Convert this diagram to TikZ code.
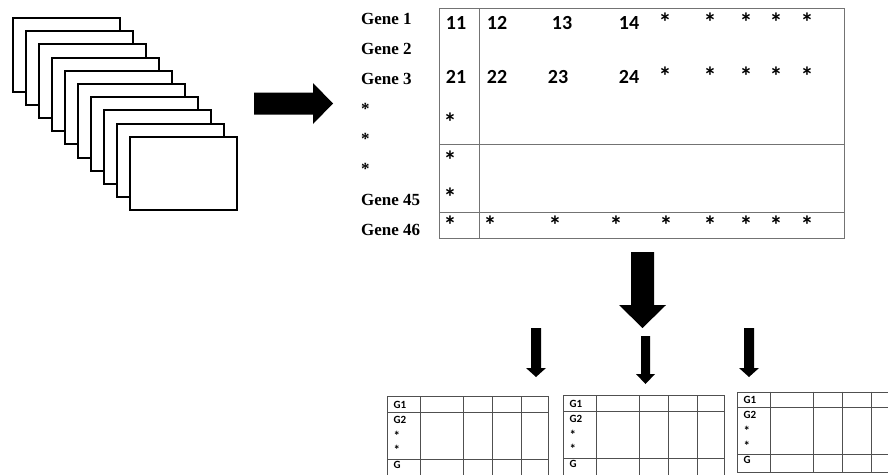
\documentclass[tikz,border=0pt]{standalone}
\usepackage{fontspec}
\setmainfont{Liberation Serif}
\newfontfamily\calfont{Carlito}
\definecolor{mgray}{RGB}{115,115,115}
\definecolor{tgray}{RGB}{80,80,80}
\begin{document}
\begin{tikzpicture}[x=1pt,y=-1pt,
  card/.style={draw=black,line width=2pt,fill=white,minimum width=107pt,minimum height=73.5pt,anchor=north west,inner sep=0pt,outer sep=0pt},
  gene/.style={anchor=base west,inner sep=0pt,font=\fontsize{17}{20}\selectfont\bfseries},
  num/.style={anchor=base,inner sep=0pt,font=\calfont\fontsize{20}{24}\selectfont\bfseries},
  star/.style={anchor=base,inner sep=0pt,font=\calfont\fontsize{26}{30}\selectfont\bfseries},
  smalltxt/.style={anchor=base west,inner sep=0pt,font=\calfont\fontsize{11}{13}\selectfont\bfseries},
  smallstar/.style={anchor=base west,inner sep=0pt,font=\calfont\fontsize{13}{15}\selectfont\bfseries},
  mline/.style={draw=mgray,line width=0.9pt},
  tline/.style={draw=tgray,line width=0.9pt},
  blockarrow/.style={fill=black}]
\clip (0,0) rectangle (888,474);
\fill[white] (0,0) rectangle (888,474);
% stacked cards
\foreach \i in {0,...,9}
  \node[card] (card\i) at ({13+13*\i},{18+13.2*\i}) {};
% right arrow
\fill[blockarrow] (254,92.5) -- (313,92.5) -- (313,83) -- (333,103.5) -- (313,124) -- (313,114.5) -- (254,114.5) -- cycle;
% big matrix
\node[mline,minimum width=405pt,minimum height=230pt,anchor=north west,inner sep=0pt] (mat) at (439,8) {};
\draw[mline] (479,8) -- (479,238);
\draw[mline] (439,144) -- (844,144);
\draw[mline] (439,212) -- (844,212);
% gene labels
\node[gene] (g1) at (361,24) {Gene 1};
\node[gene] (g2) at (361,54.2) {Gene 2};
\node[gene] (g3) at (361,84.3) {Gene 3};
\node[gene] (g4) at (361,114.5) {*};
\node[gene] (g5) at (361,144.6) {*};
\node[gene] (g6) at (361,174.8) {*};
\node[gene] (g45) at (361,205) {Gene 45};
\node[gene] (g46) at (361,235) {Gene 46};
% matrix entries
\node[num] (n11) at (456,29.3) {11};
\node[num] (n12) at (497,29.3) {12};
\node[num] (n13) at (562,29.3) {13};
\node[num] (n14) at (629,29.3) {14};
\node[num] (n21) at (456,83.3) {21};
\node[num] (n22) at (497,83.3) {22};
\node[num] (n23) at (558,83.3) {23};
\node[num] (n24) at (629,83.3) {24};
\foreach \x [count=\k] in {665,710,746,776,807} {
  \node[star] (sa\k) at (\x,31.3) {*};
  \node[star] (sb\k) at (\x,85.7) {*};
}
\node[star] (sc1) at (450,131.3) {*};
\node[star] (sc2) at (450,169) {*};
\node[star] (sc3) at (450,206.3) {*};
\foreach \x [count=\k] in {450,490,555,616,666,710,746,776,807}
  \node[star] (sd\k) at (\x,234) {*};
% big down arrow
\fill[blockarrow] (631,252) -- (654,252) -- (654,305) -- (666,305) -- (642.5,328) -- (619,305) -- (631,305) -- cycle;
% small arrows
\fill[blockarrow] (531,328) -- (541,328) -- (541,368) -- (546,368) -- (536,377) -- (526,368) -- (531,368) -- cycle;
\fill[blockarrow] (641,336) -- (650,336) -- (650,374) -- (655,374) -- (645.5,384) -- (636,374) -- (641,374) -- cycle;
\fill[blockarrow] (744,328) -- (754,328) -- (754,368) -- (759,368) -- (749,377) -- (739,368) -- (744,368) -- cycle;
% small tables
\foreach \L/\T/\n in {387/396/a,563/395/b,737/391.5/c} {
  \node[tline,minimum width=161pt,minimum height=80pt,anchor=north west,inner sep=0pt] (tab\n) at (\L,\T) {};
  \foreach \dx in {33.5,76,105,134}
    \draw[tline] ({\L+\dx},\T) -- ({\L+\dx},{\T+80});
  \draw[tline] (\L,{\T+16}) -- ({\L+161},{\T+16});
  \draw[tline] (\L,{\T+63}) -- ({\L+161},{\T+63});
  \node[smalltxt] (t\n1) at ({\L+6.5},{\T+12.3}) {G1};
  \node[smalltxt] (t\n2) at ({\L+6.5},{\T+27.3}) {G2};
  \node[smallstar] (t\n3) at ({\L+6.5},{\T+44}) {*};
  \node[smallstar] (t\n4) at ({\L+6.5},{\T+58.5}) {*};
  \node[smalltxt] (t\n5) at ({\L+6.5},{\T+72.3}) {G};
}
\end{tikzpicture}
\end{document}
